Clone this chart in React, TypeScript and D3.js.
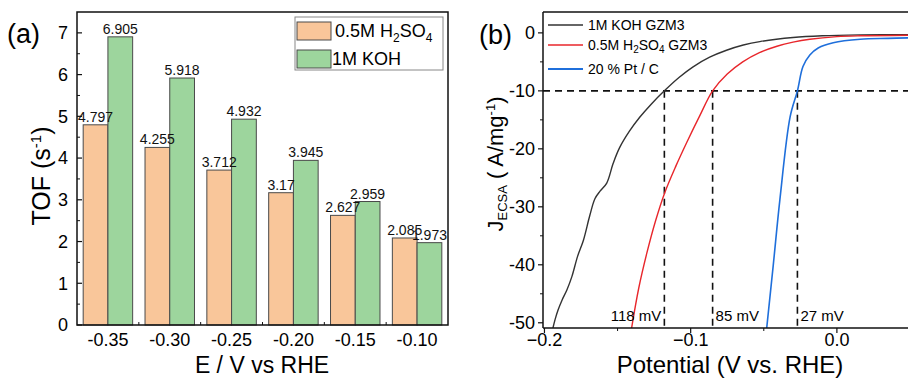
import React from 'react';
import * as d3 from 'd3';

const categories = ['-0.35', '-0.30', '-0.25', '-0.20', '-0.15', '-0.10'];
const h2so4Values = [4.797, 4.255, 3.712, 3.17, 2.627, 2.085];
const kohValues = [6.905, 5.918, 4.932, 3.945, 2.959, 1.973];
const tofTicks = [0, 1, 2, 3, 4, 5, 6, 7];
const tofMinorTicks = [0.5, 1.5, 2.5, 3.5, 4.5, 5.5, 6.5];

const potentialTicks = [-0.2, -0.1, 0.0];
const potentialMinorTicks = [-0.15, -0.05];
const jTicks = [0, -10, -20, -30, -40, -50];
const jMinorTicks = [-5, -15, -25, -35, -45];

const kohCurve: [number, number][] = [
  [-0.1942, -50.9], [-0.1928, -49.5], [-0.1907, -47.8], [-0.188, -46.1], [-0.1846, -44.3],
  [-0.1812, -42.0], [-0.1773, -38.5], [-0.1734, -35.8], [-0.169, -31.5], [-0.1655, -28.6],
  [-0.162, -27.3], [-0.1574, -25.9], [-0.153, -22.5], [-0.1486, -19.8], [-0.142, -17.0],
  [-0.135, -14.6], [-0.127, -12.3], [-0.118, -10], [-0.108, -7.7], [-0.0986, -5.9],
  [-0.087, -4.2], [-0.0755, -3.0], [-0.064, -2.1], [-0.0527, -1.5], [-0.03, -0.8],
  [-0.01, -0.5], [0.016, -0.35], [0.05, -0.3],
];
const h2so4Curve: [number, number][] = [
  [-0.1404, -50.9], [-0.1355, -44], [-0.13, -38], [-0.124, -32.4], [-0.1178, -27.6],
  [-0.11, -22.9], [-0.1027, -18.9], [-0.094, -14.4], [-0.085, -10], [-0.075, -7.1],
  [-0.0644, -5.0], [-0.053, -3.4], [-0.041, -2.3], [-0.03, -1.6], [-0.0185, -1.1],
  [0.0, -0.65], [0.016, -0.5], [0.05, -0.4],
];
const ptcCurve: [number, number][] = [
  [-0.048, -50.9], [-0.0435, -40], [-0.039, -28.8], [-0.032, -14.5], [-0.027, -10],
  [-0.0232, -5.8], [-0.0185, -3.8], [-0.0128, -2.6], [-0.0025, -1.7], [0.016, -1.1],
  [0.035, -0.95], [0.05, -0.85],
];
const overpotentials = [-0.118, -0.085, -0.027];
const overpotentialLabels = ['118 mV', '85 mV', '27 mV'];
const refCurrent = -10;

const FONT = 'Arial, "Liberation Sans", sans-serif';
const ORANGE = '#F9C69A';
const GREEN = '#9DD59D';
const BAR_STROKE = '#4a4a4a';

export default function App() {
  // Panel (a)
  const aL = 77, aR = 448, aT = 12, aB = 325;
  const x0 = d3.scaleBand<string>().domain(categories).range([aL, aR]).paddingInner(0.2).paddingOuter(0.1);
  const x1 = d3.scaleBand<string>().domain(['h2so4', 'koh']).range([0, x0.bandwidth()]);
  const yA = d3.scaleLinear().domain([0, 7.5]).range([aB, aT]);
  const step = x0.step();
  const boundaries = categories.slice(1).map((c) => (x0(c) as number) - step * 0.1);

  // Panel (b)
  const bL = 543, bR = 910, bT = 12, bB = 328;
  const xB = d3.scaleLinear().domain([-0.201, 0.05]).range([bL, bR]);
  const yB = d3.scaleLinear().domain([-50.9, 3.6]).range([bB, bT]);
  const line = d3.line<[number, number]>().x((d) => xB(d[0])).y((d) => yB(d[1])).curve(d3.curveCatmullRom.alpha(0.5));

  return (
    <svg width={908} height={378} style={{ position: 'absolute', left: 0, top: 0, background: '#fff' }} fontFamily={FONT}>
      <rect width={908} height={378} fill="#fff" />
      {/* ---------- Panel (a) ---------- */}
      <text x={7} y={43} fontSize={27}>(a)</text>
      {categories.map((c, i) => {
        const bx = x0(c) as number;
        return (
          <g key={c}>
            <rect x={bx + (x1('h2so4') as number)} y={yA(h2so4Values[i])} width={x1.bandwidth()} height={aB - yA(h2so4Values[i])} fill={ORANGE} stroke={BAR_STROKE} strokeWidth={1} />
            <rect x={bx + (x1('koh') as number)} y={yA(kohValues[i])} width={x1.bandwidth()} height={aB - yA(kohValues[i])} fill={GREEN} stroke={BAR_STROKE} strokeWidth={1} />
          </g>
        );
      })}
      {categories.map((c, i) => {
        const bx = x0(c) as number;
        return (
          <g key={'l' + c} fontSize={14} textAnchor="middle" fill="#111">
            <text x={bx + (x1('h2so4') as number) + x1.bandwidth() / 2} y={yA(h2so4Values[i]) - 3}>{String(h2so4Values[i])}</text>
            <text x={bx + (x1('koh') as number) + x1.bandwidth() / 2} y={yA(kohValues[i]) - 3}>{String(kohValues[i])}</text>
          </g>
        );
      })}
      <rect x={aL} y={aT} width={aR - aL} height={aB - aT} fill="none" stroke="#111" strokeWidth={1.5} />
      {tofTicks.map((t) => (
        <g key={'ta' + t}>
          <line x1={aL} x2={aL + 5} y1={yA(t)} y2={yA(t)} stroke="#111" strokeWidth={1.2} />
          <text x={68} y={yA(t)} dy="0.35em" textAnchor="end" fontSize={18}>{t}</text>
        </g>
      ))}
      {tofMinorTicks.map((t) => (
        <line key={'tma' + t} x1={aL} x2={aL + 3} y1={yA(t)} y2={yA(t)} stroke="#111" strokeWidth={1} />
      ))}
      {boundaries.map((bx, i) => (
        <line key={'bx' + i} x1={bx} x2={bx} y1={aB} y2={aB - 3} stroke="#111" strokeWidth={1} />
      ))}
      {categories.map((c) => (
        <text key={'xt' + c} x={(x0(c) as number) + x0.bandwidth() / 2} y={346} textAnchor="middle" fontSize={18}>{c}</text>
      ))}
      <text x={262} y={373} textAnchor="middle" fontSize={23}>E / V vs RHE</text>
      <text transform={`translate(50,176) rotate(-90)`} textAnchor="middle" fontSize={25}>
        TOF (s<tspan dy={-9} fontSize={15}>-1</tspan><tspan dy={9}>)</tspan>
      </text>
      {/* legend (a) */}
      <rect x={295} y={17} width={148} height={53} fill="#fff" stroke="#888" strokeWidth={1} />
      <rect x={297} y={22} width={34} height={18} fill={ORANGE} stroke={BAR_STROKE} />
      <rect x={297} y={50} width={34} height={18} fill={GREEN} stroke={BAR_STROKE} />
      <text x={335} y={37} fontSize={18}>
        0.5M H<tspan dy={5} fontSize={12}>2</tspan><tspan dy={-5}>SO</tspan><tspan dy={5} fontSize={12}>4</tspan>
      </text>
      <text x={332} y={65} fontSize={18}>1M KOH</text>

      {/* ---------- Panel (b) ---------- */}
      <text x={479} y={44} fontSize={27}>(b)</text>
      <defs>
        <clipPath id="clipB">
          <rect x={bL} y={bT} width={bR - bL} height={bB - bT} />
        </clipPath>
      </defs>
      <g clipPath="url(#clipB)">
        <line x1={bL} x2={bR} y1={yB(refCurrent)} y2={yB(refCurrent)} stroke="#111" strokeWidth={1.6} strokeDasharray="7,5" />
        {overpotentials.map((v) => (
          <line key={'v' + v} x1={xB(v)} x2={xB(v)} y1={yB(refCurrent)} y2={bB} stroke="#111" strokeWidth={1.6} strokeDasharray="7,5" />
        ))}
        <path d={line(kohCurve) as string} fill="none" stroke="#333" strokeWidth={1.4} />
        <path d={line(h2so4Curve) as string} fill="none" stroke="#E8262B" strokeWidth={1.4} />
        <path d={line(ptcCurve) as string} fill="none" stroke="#1F6FDB" strokeWidth={1.6} />
      </g>
      <text x={xB(overpotentials[0]) - 3} y={321} textAnchor="end" fontSize={15}>{overpotentialLabels[0]}</text>
      <text x={xB(overpotentials[1]) + 3} y={321} textAnchor="start" fontSize={15}>{overpotentialLabels[1]}</text>
      <text x={xB(overpotentials[2]) + 3} y={321} textAnchor="start" fontSize={15}>{overpotentialLabels[2]}</text>
      <line x1={bL} x2={bR} y1={bT} y2={bT} stroke="#111" strokeWidth={1.5} />
      <line x1={bL} x2={bL} y1={bT} y2={bB} stroke="#111" strokeWidth={1.5} />
      <line x1={bL} x2={bR} y1={bB} y2={bB} stroke="#111" strokeWidth={1.5} />
      {jTicks.map((t) => (
        <g key={'jt' + t}>
          <line x1={bL - 5} x2={bL} y1={yB(t)} y2={yB(t)} stroke="#111" strokeWidth={1.2} />
          <text x={535} y={yB(t)} dy="0.35em" textAnchor="end" fontSize={18}>{t}</text>
        </g>
      ))}
      {jMinorTicks.map((t) => (
        <line key={'jm' + t} x1={bL - 3} x2={bL} y1={yB(t)} y2={yB(t)} stroke="#111" strokeWidth={1} />
      ))}
      {potentialTicks.map((t) => (
        <g key={'pt' + t}>
          <line x1={xB(t)} x2={xB(t)} y1={bB} y2={bB + 5} stroke="#111" strokeWidth={1.2} />
          <text x={xB(t)} y={346} textAnchor="middle" fontSize={18}>{d3.format('.1f')(t)}</text>
        </g>
      ))}
      {potentialMinorTicks.map((t) => (
        <line key={'pm' + t} x1={xB(t)} x2={xB(t)} y1={bB} y2={bB + 3} stroke="#111" strokeWidth={1} />
      ))}
      <text x={730} y={373} textAnchor="middle" fontSize={24}>Potential (V vs. RHE)</text>
      <text transform={`translate(503,164) rotate(-90)`} textAnchor="middle" fontSize={22}>
        J<tspan fontSize={13} dy={4}>ECSA</tspan><tspan dy={-4}> ( A/mg</tspan><tspan dy={-8} fontSize={13}>-1</tspan><tspan dy={8}>)</tspan>
      </text>
      {/* legend (b) */}
      <line x1={548} x2={583} y1={25} y2={25} stroke="#333" strokeWidth={1.6} />
      <line x1={548} x2={583} y1={45} y2={45} stroke="#E8262B" strokeWidth={1.6} />
      <line x1={548} x2={583} y1={69} y2={69} stroke="#1F6FDB" strokeWidth={2} />
      <text x={588} y={30} fontSize={14}>1M KOH GZM3</text>
      <text x={588} y={50} fontSize={14}>
        0.5M H<tspan dy={3} fontSize={10}>2</tspan><tspan dy={-3}>SO</tspan><tspan dy={3} fontSize={10}>4</tspan><tspan dy={-3}> GZM3</tspan>
      </text>
      <text x={588} y={74} fontSize={14}>20 % Pt / C</text>
    </svg>
  );
}
